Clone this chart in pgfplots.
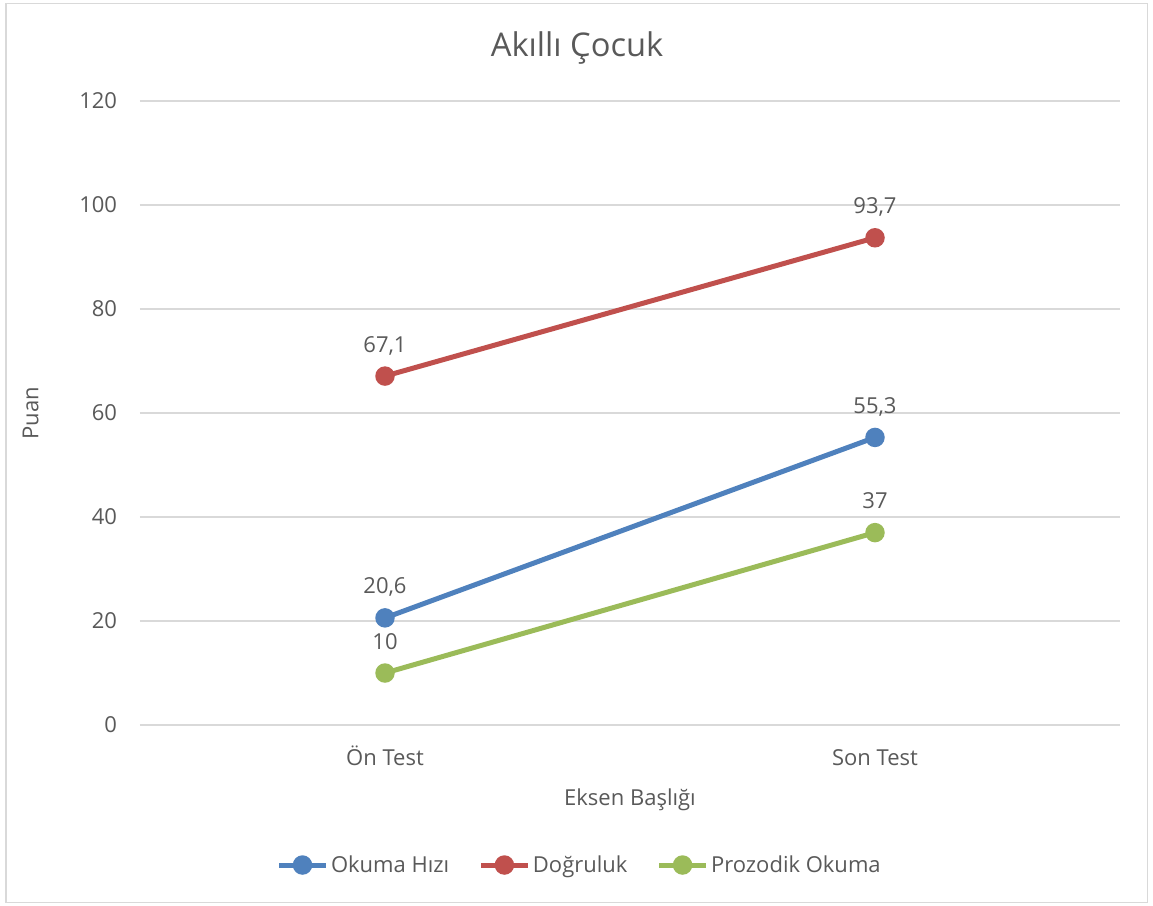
\documentclass[border=0pt]{standalone}
\usepackage{pgfplots}
\pgfplotsset{compat=1.18}
\usepackage{fontspec}
\setmainfont{Open Sans}
\definecolor{txt}{HTML}{595959}
\definecolor{grd}{HTML}{D9D9D9}
\definecolor{cblue}{HTML}{4F81BD}
\definecolor{cred}{HTML}{C0504D}
\definecolor{cgreen}{HTML}{9BBB59}
\begin{document}
\begin{tikzpicture}
\path[use as bounding box] (0,0) rectangle (864.75pt,-679.5pt);
\draw[grd, line width=1pt] (4.5pt,-2.5pt) rectangle (860.5pt,-677pt);
\begin{axis}[
  at={(105pt,-543.75pt)}, anchor=south west,
  scale only axis, width=735pt, height=468pt,
  xmin=-0.5, xmax=1.5, ymin=0, ymax=120,
  xtick={0,1}, xticklabels={Ön Test, Son Test},
  ytick={0,20,...,120},
  axis line style={draw=none},
  major tick length=0pt,
  ymajorgrids, grid style={grd, line width=1pt},
  font=\fontsize{16.5}{20}\selectfont,
  every tick label/.append style={text=txt},
  xticklabel style={anchor=base, yshift=-30pt, inner sep=0pt},
  yticklabel style={anchor=east, xshift=-17pt, inner sep=0pt},
  /pgf/number format/assume math mode=true,
  /pgf/number format/use comma,
  /pgf/number format/1000 sep={},
  title={Akıllı Çocuk},
  title style={at={(axis description cs:0.446,1)}, anchor=base, yshift=27.5pt, font=\fontsize{24.5}{29}\selectfont, text=txt},
  xlabel={Eksen Başlığı},
  xlabel style={at={(axis description cs:0.5,0)}, anchor=base, yshift=-60pt, text=txt},
  ylabel={Puan},
  ylabel style={at={(axis description cs:-0.1116,0.5)}, anchor=center, text=txt},
  nodes near coords,
  every node near coord/.append style={anchor=base, yshift=18pt, inner sep=0pt, text=txt, font=\fontsize{16.5}{20}\selectfont},
  every axis plot/.append style={line width=3.75pt, mark=*, mark size=5.4pt},
  legend columns=3,
  legend style={at={(axis description cs:0.449,-0.2244)}, anchor=center, draw=none, fill=none, text=txt,
    /tikz/every even column/.append style={column sep=20pt}},
  legend image code/.code={\draw[#1, mark repeat=2, mark phase=2] plot coordinates {(0pt,0pt) (17.5pt,0pt) (35pt,0pt)};},
]
\addplot[cblue, mark options={fill=cblue}] coordinates {(0,20.6) (1,55.3)};
\addlegendentry{Okuma Hızı}
\addplot[cred, mark options={fill=cred}] coordinates {(0,67.1) (1,93.7)};
\addlegendentry{Doğruluk}
\addplot[cgreen, mark options={fill=cgreen}] coordinates {(0,10) (1,37)};
\addlegendentry{Prozodik Okuma}
\end{axis}
\end{tikzpicture}
\end{document}
